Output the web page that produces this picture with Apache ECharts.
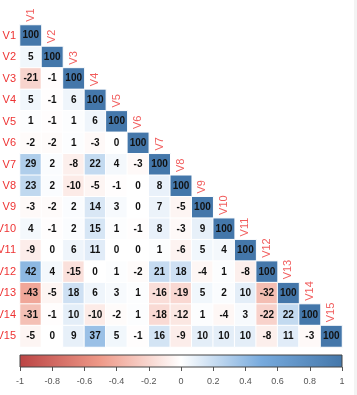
<!DOCTYPE html>
<html>
<head>
<meta charset="utf-8">
<script src="https://cdn.jsdelivr.net/npm/echarts@6/dist/echarts.min.js"></script>
<style>
  html, body { margin: 0; padding: 0; background: #fff; }
  #chart { width: 357px; height: 395px; }
</style>
</head>
<body>
<div id="chart"></div>
<script>
const vars = ['V1', 'V2', 'V3', 'V4', 'V5', 'V6', 'V7', 'V8', 'V9', 'V10', 'V11', 'V12', 'V13', 'V14', 'V15']

// lower triangle of the correlation matrix, x100 as printed in the cells
const corrRows = [
  [100],
  [5, 100],
  [-21, -1, 100],
  [5, -1, 6, 100],
  [1, -1, 1, 6, 100],
  [-2, -2, 1, -3, 0, 100],
  [29, 2, -8, 22, 4, -3, 100],
  [23, 2, -10, -5, -1, 0, 8, 100],
  [-3, -2, 2, 14, 3, 0, 7, -5, 100],
  [4, -1, 2, 15, 1, -1, 8, -3, 9, 100],
  [-9, 0, 6, 11, 0, 0, 1, -6, 5, 4, 100],
  [42, 4, -15, 0, 1, -2, 21, 18, -4, 1, -8, 100],
  [-43, -5, 18, 6, 3, 1, -16, -19, 5, 2, 10, -32, 100],
  [-31, -1, 10, -10, -2, 1, -18, -12, 1, -4, 3, -22, 22, 100],
  [-5, 0, 9, 37, 5, -1, 16, -9, 10, 10, 10, -8, 11, -3, 100]
]

const legendTicks = [-1, -0.8, -0.6, -0.4, -0.2, 0, 0.2, 0.4, 0.6, 0.8, 1]
const palette = ['#BB4444', '#EE9988', '#FFFFFF', '#77AADD', '#4477AA']

const chart = echarts.init(document.getElementById('chart'))

const heatData = []
corrRows.forEach((row, i) => {
  row.forEach((v, j) => heatData.push([j, i, v]))
})
const diagData = vars.map((name, i) => ({ name, value: [i, i] }))

const font = 'Liberation Sans, Arial, sans-serif'

chart.setOption({
  animation: false,
  backgroundColor: '#fff',
  graphic: [
    { type: 'rect', shape: { x: 354, y: 0, width: 3, height: 395 }, style: { fill: '#f3f3f3' }, silent: true }
  ],
  grid: [
    { left: 20, top: 25, width: 322, height: 322, outerBoundsMode: 'none', containLabel: false },
    { left: 20, top: 355, width: 322, height: 12, outerBoundsMode: 'none', containLabel: false }
  ],
  xAxis: [
    { type: 'category', gridIndex: 0, data: vars, show: false },
    {
      type: 'value', gridIndex: 1, min: legendTicks[0], max: legendTicks[legendTicks.length - 1], interval: 0.2,
      axisLine: { show: false },
      axisTick: { show: true, length: 4, lineStyle: { color: '#555' } },
      splitLine: { show: false },
      axisLabel: {
        color: '#555', fontSize: 9, fontFamily: font, margin: 10,
        formatter: v => String(+v.toFixed(1))
      }
    }
  ],
  yAxis: [
    {
      type: 'category', gridIndex: 0, data: vars, inverse: true,
      axisLine: { show: false }, axisTick: { show: false }, splitLine: { show: false },
      axisLabel: { color: '#ee3333', fontSize: 11, fontFamily: font, margin: 4 }
    },
    { type: 'value', gridIndex: 1, min: 0, max: 1, show: false }
  ],
  visualMap: {
    type: 'continuous', show: false, min: -100, max: 100,
    seriesIndex: 0, dimension: 2,
    inRange: { color: palette }
  },
  series: [
    {
      type: 'heatmap',
      xAxisIndex: 0, yAxisIndex: 0,
      data: heatData,
      itemStyle: { borderColor: '#fff', borderWidth: 1 },
      label: {
        show: true, color: '#111', fontSize: 10, fontWeight: 'bold', fontFamily: font,
        formatter: p => p.value[2]
      }
    },
    {
      type: 'scatter',
      xAxisIndex: 0, yAxisIndex: 0,
      symbolSize: 0,
      data: diagData,
      label: {
        show: true, position: 'top', distance: 14, rotate: 90,
        align: 'left', verticalAlign: 'middle',
        color: '#ee3333', fontSize: 11, fontFamily: font,
        formatter: p => p.name
      }
    },
    {
      type: 'custom',
      xAxisIndex: 1, yAxisIndex: 1,
      data: [[legendTicks[0], legendTicks[legendTicks.length - 1]]],
      renderItem: (params, api) => {
        const p0 = api.coord([api.value(0), 1])
        const p1 = api.coord([api.value(1), 0])
        return {
          type: 'rect',
          shape: { x: p0[0], y: p0[1], width: p1[0] - p0[0], height: p1[1] - p0[1] },
          style: {
            fill: new echarts.graphic.LinearGradient(0, 0, 1, 0,
              palette.map((c, k) => ({ offset: k / (palette.length - 1), color: c }))),
            stroke: '#444',
            lineWidth: 1
          }
        }
      }
    }
  ]
})
</script>
</body>
</html>
